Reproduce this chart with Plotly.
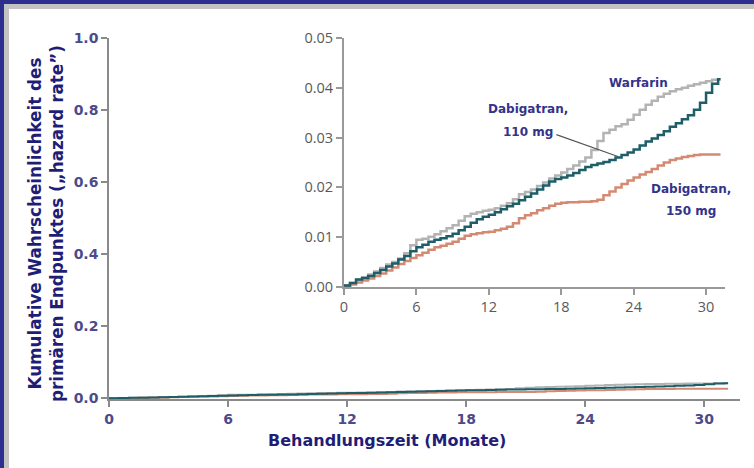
import plotly.graph_objects as go

# ---------------- data ----------------
months = [0.0, 0.5, 1.0, 1.5, 2.0, 2.5, 3.0, 3.5, 4.0, 4.5, 5.0, 5.5, 6.0, 6.5, 7.0, 7.5,
          8.0, 8.5, 9.0, 9.5, 10.0, 10.5, 11.0, 11.5, 12.0, 12.5, 13.0, 13.5, 14.0, 14.5,
          15.0, 15.5, 16.0, 16.5, 17.0, 17.5, 18.0, 18.5, 19.0, 19.5, 20.0, 20.5, 21.0,
          21.5, 22.0, 22.5, 23.0, 23.5, 24.0, 24.5, 25.0, 25.5, 26.0, 26.5, 27.0, 27.5,
          28.0, 28.5, 29.0, 29.5, 30.0, 30.5, 31.0, 31.2]

warfarin = [0.0003, 0.0008, 0.0014, 0.0019, 0.0025, 0.0031, 0.0038, 0.0045, 0.0050, 0.0057,
            0.0068, 0.0084, 0.0095, 0.0097, 0.0101, 0.0106, 0.0112, 0.0118, 0.0124, 0.0133,
            0.0142, 0.0147, 0.0150, 0.0153, 0.0155, 0.0158, 0.0163, 0.0168, 0.0176, 0.0186,
            0.0191, 0.0196, 0.0203, 0.0210, 0.0218, 0.0224, 0.0230, 0.0237, 0.0244, 0.0252,
            0.0260, 0.0275, 0.0293, 0.0309, 0.0316, 0.0323, 0.0327, 0.0336, 0.0346, 0.0356,
            0.0366, 0.0374, 0.0382, 0.0388, 0.0393, 0.0397, 0.0400, 0.0404, 0.0407, 0.0410,
            0.0413, 0.0416, 0.0417, 0.0417]

dabi110 = [0.0003, 0.0008, 0.0015, 0.0018, 0.0022, 0.0028, 0.0034, 0.0041, 0.0047, 0.0055,
           0.0062, 0.0072, 0.0080, 0.0085, 0.0091, 0.0095, 0.0098, 0.0102, 0.0107, 0.0114,
           0.0121, 0.0129, 0.0136, 0.0141, 0.0145, 0.0150, 0.0156, 0.0162, 0.0167, 0.0174,
           0.0181, 0.0188, 0.0196, 0.0204, 0.0212, 0.0217, 0.0220, 0.0224, 0.0229, 0.0235,
           0.0241, 0.0245, 0.0248, 0.0251, 0.0255, 0.0260, 0.0265, 0.0270, 0.0276, 0.0284,
           0.0292, 0.0298, 0.0305, 0.0313, 0.0322, 0.0329, 0.0337, 0.0345, 0.0356, 0.0370,
           0.0390, 0.0408, 0.0417, 0.0417]

dabi150 = [0.0002, 0.0005, 0.0009, 0.0013, 0.0017, 0.0022, 0.0027, 0.0033, 0.0039, 0.0046,
           0.0052, 0.0058, 0.0064, 0.0069, 0.0075, 0.0080, 0.0083, 0.0087, 0.0091, 0.0097,
           0.0103, 0.0106, 0.0108, 0.0110, 0.0111, 0.0114, 0.0117, 0.0121, 0.0128, 0.0138,
           0.0144, 0.0148, 0.0154, 0.0158, 0.0163, 0.0167, 0.0169, 0.0170, 0.0170, 0.0171,
           0.0171, 0.0172, 0.0175, 0.0184, 0.0192, 0.0200, 0.0207, 0.0214, 0.0220, 0.0226,
           0.0231, 0.0237, 0.0244, 0.0250, 0.0255, 0.0258, 0.0261, 0.0263, 0.0265, 0.0266,
           0.0266, 0.0266, 0.0266, 0.0266]

x_ticks = [0, 6, 12, 18, 24, 30]
main_y_ticks = [0.0, 0.2, 0.4, 0.6, 0.8, 1.0]
main_y_labels = ["0.0", "0.2", "0.4", "0.6", "0.8", "1.0"]
inset_y_ticks = [0.0, 0.01, 0.02, 0.03, 0.04, 0.05]
inset_y_labels = ["0.00", "0.01", "0.02", "0.03", "0.04", "0.05"]

series = [("Warfarin", warfarin, "#b3b3b3"),
          ("Dabigatran, 150 mg", dabi150, "#d48a72"),
          ("Dabigatran, 110 mg", dabi110, "#1d5e68")]

# ---------------- layout helpers ----------------
W, H = 754, 468
L, R, T, B = 109, 14, 38, 69
PW, PH = W - L - R, H - T - B


def px(x):
    return (x - L) / PW


def py(y):
    return (H - B - y) / PH


fig = go.Figure()
for name, vals, col in series:
    fig.add_trace(go.Scatter(x=months, y=vals, mode="lines", line=dict(color=col, width=2, shape="hv"),
                             xaxis="x", yaxis="y", name=name, showlegend=False))
for name, vals, col in series:
    fig.add_trace(go.Scatter(x=months, y=vals, mode="lines", line=dict(color=col, width=2.5, shape="hv"),
                             xaxis="x2", yaxis="y2", name=name, showlegend=False))

main_tick_font = dict(family="DejaVu Sans", size=14, color="#4b4b8c", weight="bold")
inset_tick_font = dict(family="Open Sans", size=14.5, color="#5a5a5a")

fig.update_layout(
    width=W, height=H,
    margin=dict(l=L, r=R, t=T, b=B),
    paper_bgcolor="white", plot_bgcolor="white",
    xaxis=dict(domain=[0, 1], range=[0, 31.8], tickvals=x_ticks, ticks="outside", ticklen=6,
               tickwidth=1.5, tickcolor="#8a8a8a", showline=True, linecolor="#8a8a8a", linewidth=1.5,
               showgrid=False, zeroline=False, tickfont=main_tick_font, anchor="y"),
    yaxis=dict(domain=[0, 1], range=[-0.002, 1.0], tickvals=main_y_ticks, ticktext=main_y_labels,
               ticks="outside", ticklen=6, tickwidth=1.5, tickcolor="#8a8a8a", showline=True,
               linecolor="#8a8a8a", linewidth=1.5, showgrid=False, zeroline=False,
               tickfont=main_tick_font, anchor="x"),
    xaxis2=dict(domain=[px(344), px(725)], range=[0, 31.57], tickvals=x_ticks, ticks="outside",
                ticklen=6, tickwidth=1.5, tickcolor="#999999", showline=True, linecolor="#999999",
                linewidth=2, showgrid=False, zeroline=False, tickfont=inset_tick_font, anchor="y2"),
    yaxis2=dict(domain=[py(287), 1.0], range=[0, 0.05], tickvals=inset_y_ticks, ticktext=inset_y_labels,
                ticks="outside", ticklen=6, tickwidth=1.5, tickcolor="#999999", showline=True,
                linecolor="#999999", linewidth=2, showgrid=False, zeroline=False,
                tickfont=inset_tick_font, anchor="x2"),
)

lab_font = dict(family="DejaVu Sans", size=12, color="#33338a", weight="bold")
annos = [
    ("Warfarin", 638, 83),
    ("Dabigatran,", 527.5, 109),
    ("110 mg", 528, 132),
    ("Dabigatran,", 691, 189),
    ("150 mg", 691, 211),
]
for txt, x, y in annos:
    fig.add_annotation(text=txt, x=px(x), y=py(y), xref="paper", yref="paper", showarrow=False,
                       xanchor="center", yanchor="middle", font=lab_font)

title_font = dict(family="DejaVu Sans", size=16, color="#1e1e78", weight="bold")
ytitle_font = dict(family="DejaVu Sans", size=16.8, color="#1e1e78", weight="bold")
fig.add_annotation(text="Behandlungszeit (Monate)", x=px(386.5), y=py(440), xref="paper", yref="paper",
                   showarrow=False, xanchor="center", yanchor="middle", font=title_font)
fig.add_annotation(text="Kumulative Wahrscheinlichkeit des<br>primären Endpunktes („hazard rate”)",
                   x=px(46), y=py(224), xref="paper", yref="paper", showarrow=False, textangle=-90,
                   xanchor="center", yanchor="middle", font=ytitle_font)

# leader line for 110 mg label
fig.add_shape(type="line", xref="x2", yref="y2", x0=17.6, y0=0.0306, x1=22.7, y1=0.0262,
              line=dict(color="#555555", width=1.2))

# frame (top and left bands)
blue, grey = "#2d2f8f", "#c3c3c3"
fig.add_shape(type="rect", xref="paper", yref="paper", x0=px(0), x1=px(W), y0=py(4), y1=py(0),
              fillcolor=blue, line_width=0)
fig.add_shape(type="rect", xref="paper", yref="paper", x0=px(4), x1=px(W), y0=py(9), y1=py(4),
              fillcolor=grey, line_width=0)
fig.add_shape(type="rect", xref="paper", yref="paper", x0=px(0), x1=px(4), y0=py(H), y1=py(0),
              fillcolor=blue, line_width=0)
fig.add_shape(type="rect", xref="paper", yref="paper", x0=px(4), x1=px(9), y0=py(H), y1=py(4),
              fillcolor=grey, line_width=0)

css = ("<style>html,body{margin:0;padding:0;overflow:hidden;}"
       "::-webkit-scrollbar{display:none;width:0;height:0;}</style>")
js = ("document.head.insertAdjacentHTML('beforeend','" + css + "');"
      "document.body.style.margin='0px';"
      "var d=document.getElementById('{plot_id}');"
      "d.style.position='fixed';d.style.left='0px';d.style.top='0px';")
fig.write_html("out.html", config={"displayModeBar": False}, post_script=js)
